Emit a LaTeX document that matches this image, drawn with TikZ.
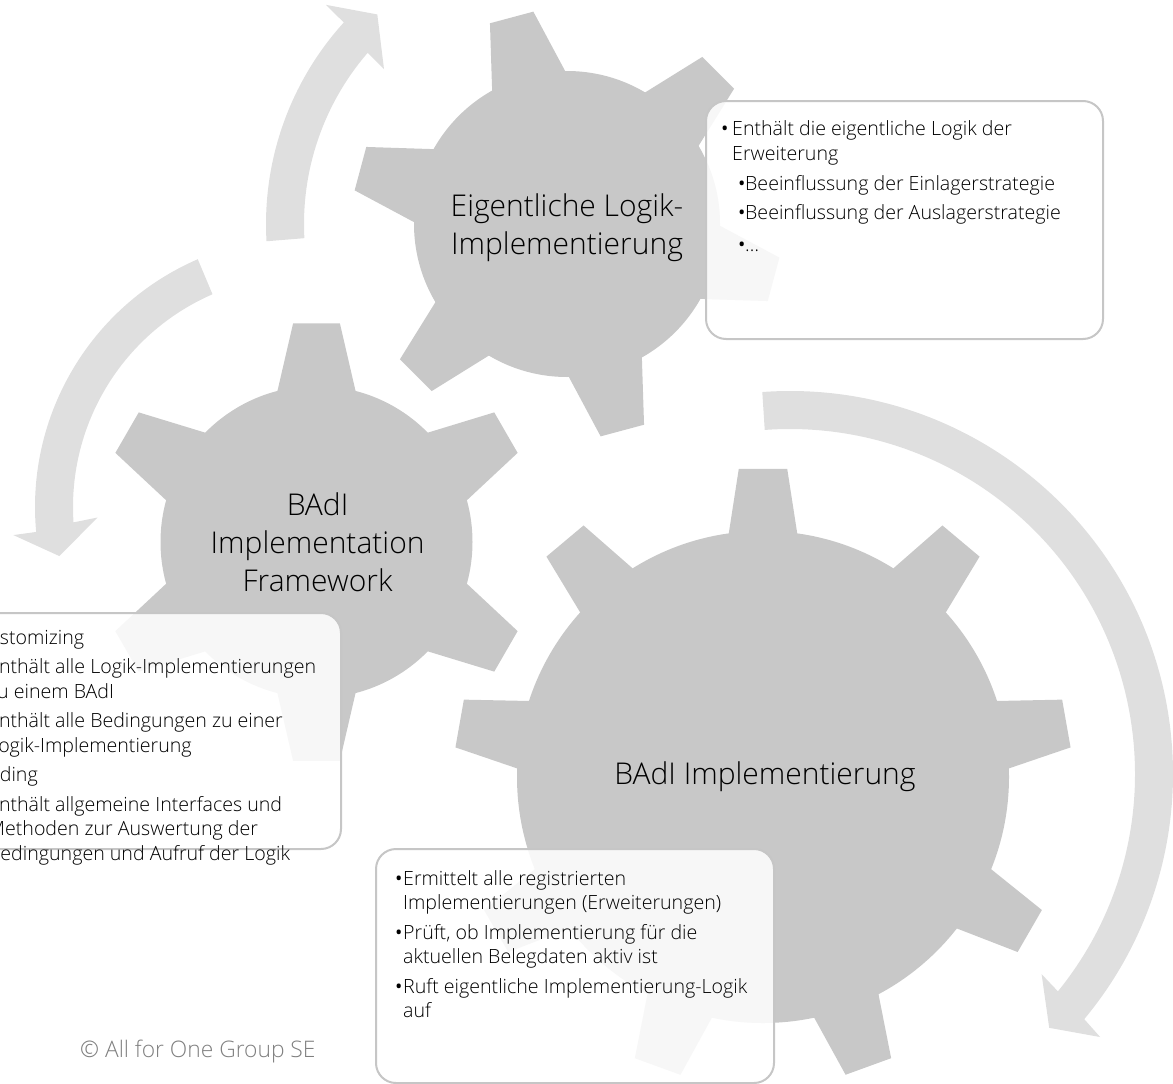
\documentclass[tikz,border=0pt]{standalone}
\usepackage{fontspec}
\setmainfont{Open Sans Light}
\newfontfamily\bulfont{Open Sans}
\definecolor{gearc}{HTML}{C8C8C8}
\definecolor{arrowc}{HTML}{DFDFDF}
\definecolor{boxline}{HTML}{C6C6C6}
\definecolor{copyc}{HTML}{7F7F7F}
\newcommand{\bulitem}[2]{\makebox[#1][l]{\bulfont •}#2}
\newcommand{\gearteeth}[6]{%
  \fill[gearfill] (#1) circle[radius=#2pt];
  \foreach \a in {#6}{%
    \fill[gearfill] (#1) -- ([shift={(#1)}]\a-#4:#2pt) -- ([shift={(#1)}]\a-#5:#3pt)
      -- ([shift={(#1)}]\a+#5:#3pt) -- ([shift={(#1)}]\a+#4:#2pt) -- cycle;
  }%
}
\tikzset{
  gearfill/.style={fill=gearc},
  arrowfill/.style={fill=arrowc},
  infobox/.style={draw=boxline, line width=2pt, fill=white, fill opacity=0.86,
    rounded corners=20pt, inner sep=0pt, anchor=north west},
  gearlabel/.style={font=\fontsize{30}{38}\selectfont, anchor=base, inner sep=0pt, align=center},
  boxtext/.style={font=\fontsize{19.6}{24.5}\selectfont, anchor=base west, inner sep=0pt},
  copytext/.style={font=\fontsize{22.8}{26}\selectfont, text=copyc, anchor=base west, inner sep=0pt}
}
\begin{document}
\begin{tikzpicture}[x=1pt,y=1pt]
\useasboundingbox (0,0) rectangle (1173,-1084);
\clip (0,0) rectangle (1173,-1084);
% arrow centres
\coordinate (c1) at (566,-224);
\coordinate (c2) at (305,-507);
\coordinate (c3) at (790,-774);
% gear centres
\coordinate (g1) at (567,-224);
\coordinate (g2) at (316.5,-542);
\coordinate (g3) at (763,-777);

% circular arrows
\fill[arrowfill] ([shift={(c1)}]183.3:300pt) arc[start angle=183.3, end angle=137.8, radius=300pt]
  -- ([shift={(c1)}]137.6:325pt) -- ([shift={(c1)}]132:282pt) -- ([shift={(c1)}]139.6:239pt)
  -- ([shift={(c1)}]139.2:262pt) arc[start angle=139.2, end angle=183.1, radius=262pt] -- cycle;
\fill[arrowfill] ([shift={(c2)}]113.4:270pt) arc[start angle=113.4, end angle=185.3, radius=270pt]
  -- ([shift={(c2)}]185.5:293pt) -- ([shift={(c2)}]191.3:250.5pt) -- ([shift={(c2)}]182.9:207.7pt)
  -- ([shift={(c2)}]183.8:232pt) arc[start angle=183.8, end angle=113.5, radius=232pt] -- cycle;
\fill[arrowfill] ([shift={(c3)}]94.15:383pt) arc[start angle=94.15, end angle=-39.8, radius=383pt]
  -- ([shift={(c3)}]-40.3:406.7pt) -- ([shift={(c3)}]-44.4:362.8pt) -- ([shift={(c3)}]-38.5:321.5pt)
  -- ([shift={(c3)}]-39.05:345pt) arc[start angle=-39.05, end angle=94.2, radius=345pt] -- cycle;

% gears
\gearteeth{g1}{153}{215}{14.3}{6}{45,105,165,225,285,345}
\gearteeth{g2}{156}{220}{14.5}{6.1}{30,90,150,210,270,330}
\gearteeth{g3}{246}{309}{8}{4.5}{10,50,90,130,170,210,250,290,330}

% gear labels
\node[gearlabel] (lab1) at (567,-216) {\parbox[t]{340pt}{\centering Eigentliche Logik-\\Implementierung}};
\node[gearlabel] (lab2) at (317.6,-515) {\parbox[t]{340pt}{\centering BAdI\\Implementation\\Framework}};
\node[gearlabel] (lab3) at (765,-784) {BAdI Implementierung};

% info boxes
\node[infobox, minimum width=397pt, minimum height=238pt] (box1) at (705,-100) {};
\node[infobox, minimum width=397pt, minimum height=236pt] (box2) at (-57,-612) {};
\node[infobox, minimum width=398pt, minimum height=234pt] (box3) at (375,-848) {};

\node[boxtext] (txt1) at (721,-135.7) {\parbox[t]{380pt}{%
\bulitem{11pt}{Enthält die eigentliche Logik der}\\
\hspace*{11pt}Erweiterung\\[6pt]
\hspace*{17pt}\bulitem{7pt}{Beeinflussung der Einlagerstrategie}\\[4pt]
\hspace*{17pt}\bulitem{7pt}{Beeinflussung der Auslagerstrategie}\\[8pt]
\hspace*{17pt}\bulitem{7pt}{…}}};

\node[boxtext] (txt2) at (-35,-644) {\parbox[t]{390pt}{%
\bulitem{11pt}{Customizing}\\[5pt]
\hspace*{16pt}\bulitem{7pt}{Enthält alle Logik-Implementierungen}\\
\hspace*{23pt}zu einem BAdI\\[5pt]
\hspace*{16pt}\bulitem{7pt}{Enthält alle Bedingungen zu einer}\\
\hspace*{23pt}Logik-Implementierung\\[5pt]
\bulitem{11pt}{Coding}\\[5pt]
\hspace*{16pt}\bulitem{7pt}{Enthält allgemeine Interfaces und}\\
\hspace*{23pt}Methoden zur Auswertung der\\
\hspace*{23pt}Bedingungen und Aufruf der Logik}};

\node[boxtext] (txt3) at (395,-885) {\parbox[t]{380pt}{%
\bulitem{8pt}{Ermittelt alle registrierten}\\
\hspace*{8pt}Implementierungen (Erweiterungen)\\[5pt]
\bulitem{8pt}{Prüft, ob Implementierung für die}\\
\hspace*{8pt}aktuellen Belegdaten aktiv ist\\[5pt]
\bulitem{8pt}{Ruft eigentliche Implementierung-Logik}\\
\hspace*{8pt}auf}};

\node[copytext] (copy) at (80,-1057) {© All for One Group SE};
\end{tikzpicture}
\end{document}
